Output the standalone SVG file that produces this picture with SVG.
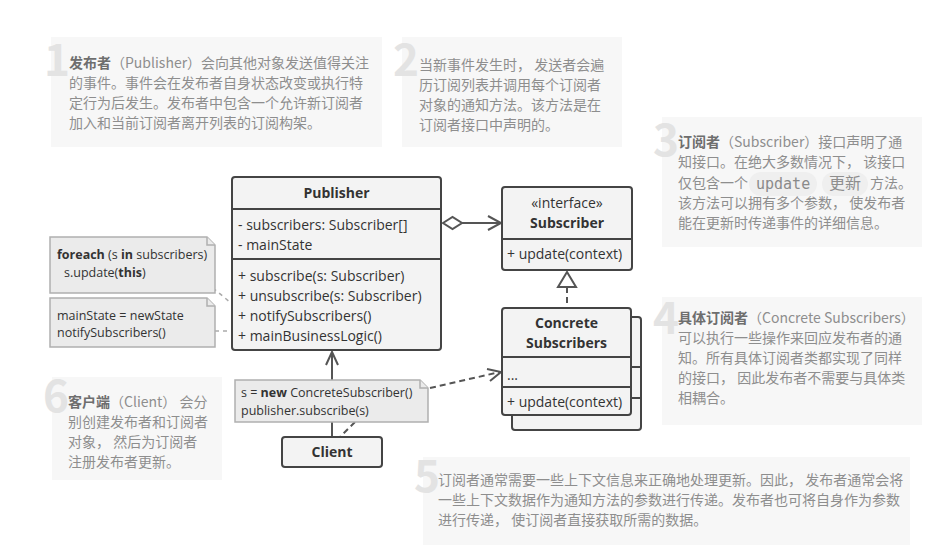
<svg xmlns="http://www.w3.org/2000/svg" width="949" height="553" viewBox="0 0 949 553">
<style>
.bg{fill:#fff}
.tn{fill:#f7f7f7}
.num{font-family:"Noto Sans CJK SC","Open Sans",sans-serif;font-weight:700;font-size:44px;fill:#e3e3e3}
.tx{font-family:"Noto Sans CJK SC","Noto Sans",sans-serif;font-size:14px;fill:#8e8e8e}
.tx .b{font-weight:700;fill:#6e6e6e}
.mono{font-family:"DejaVu Sans Mono","Liberation Mono",monospace;font-size:15px;fill:#8a8a8a}
.pill{fill:#efefef}
.box{fill:#f3f3f3;stroke:#444;stroke-width:2}
.ln{stroke:#444;stroke-width:2;fill:none}
.u{font-family:"Open Sans","Noto Sans",sans-serif;font-size:14px;fill:#333}
.ub{font-family:"Open Sans","Noto Sans",sans-serif;font-size:14px;font-weight:700;fill:#333}
.note{fill:#ebebeb;stroke:#b0b0b0;stroke-width:1.5}
.nt{font-family:"Open Sans","Noto Sans",sans-serif;font-size:12.5px;fill:#333}
.nt .b{font-weight:700}
.con{stroke:#555;stroke-width:2;fill:none}
.dash{stroke:#555;stroke-width:2;fill:none;stroke-dasharray:6 4}
.ndash{stroke:#aaa;stroke-width:1.5;fill:none;stroke-dasharray:4 4}
</style>
<rect class="bg" x="0" y="0" width="949" height="553"/>

<g id="note1">
<rect class="tn" x="51" y="37" width="331" height="110"/>
<text class="num" x="44" y="76">1</text>
<text class="tx" x="69" y="68"><tspan class="b">发布者</tspan>（Publisher）会向其他对象发送值得关注</text>
<text class="tx" x="69" y="88">的事件。事件会在发布者自身状态改变或执行特</text>
<text class="tx" x="69" y="108">定行为后发生。发布者中包含一个允许新订阅者</text>
<text class="tx" x="69" y="128">加入和当前订阅者离开列表的订阅构架。</text>
</g>

<g id="note2">
<rect class="tn" x="402" y="37" width="220" height="110"/>
<text class="num" x="393" y="76">2</text>
<text class="tx" x="419" y="70">当新事件发生时， 发送者会遍</text>
<text class="tx" x="419" y="90">历订阅列表并调用每个订阅者</text>
<text class="tx" x="419" y="110">对象的通知方法。该方法是在</text>
<text class="tx" x="419" y="130">订阅者接口中声明的。</text>
</g>

<g id="note3">
<rect class="tn" x="662" y="117" width="260" height="130"/>
<text class="num" x="653" y="156">3</text>
<text class="tx" x="678" y="147"><tspan class="b">订阅者</tspan>（Subscriber）接口声明了通</text>
<text class="tx" x="678" y="167">知接口。在绝大多数情况下， 该接口</text>
<rect class="pill" x="749" y="172" width="68" height="24" rx="12"/>
<rect class="pill" x="822" y="172" width="46" height="24" rx="12"/>
<text class="tx" x="678" y="188">仅包含一个</text>
<text class="mono" x="756" y="189">update</text>
<text class="tx" x="829" y="189" style="font-size:16px">更新</text>
<text class="tx" x="870" y="188">方法。</text>
<text class="tx" x="678" y="208">该方法可以拥有多个参数， 使发布者</text>
<text class="tx" x="678" y="228">能在更新时传递事件的详细信息。</text>
</g>

<g id="note4">
<rect class="tn" x="662" y="297" width="260" height="128"/>
<text class="num" x="653" y="334">4</text>
<text class="tx" x="678" y="323"><tspan class="b">具体订阅者</tspan>（Concrete Subscribers）</text>
<text class="tx" x="678" y="343">可以执行一些操作来回应发布者的通</text>
<text class="tx" x="678" y="363">知。所有具体订阅者类都实现了同样</text>
<text class="tx" x="678" y="383">的接口， 因此发布者不需要与具体类</text>
<text class="tx" x="678" y="403">相耦合。</text>
</g>

<g id="note5">
<rect class="tn" x="423" y="457" width="487" height="88"/>
<text class="num" x="414" y="492">5</text>
<text class="tx" x="438" y="485">订阅者通常需要一些上下文信息来正确地处理更新。因此， 发布者通常会将</text>
<text class="tx" x="438" y="505">一些上下文数据作为通知方法的参数进行传递。发布者也可将自身作为参数</text>
<text class="tx" x="438" y="525">进行传递， 使订阅者直接获取所需的数据。</text>
</g>

<g id="note6">
<rect class="tn" x="52" y="377" width="170" height="103"/>
<text class="num" x="43" y="412">6</text>
<text class="tx" x="68" y="407"><tspan class="b">客户端</tspan>（Client） 会分</text>
<text class="tx" x="68" y="427">别创建发布者和订阅者</text>
<text class="tx" x="68" y="447">对象， 然后为订阅者</text>
<text class="tx" x="68" y="467">注册发布者更新。</text>
</g>

<g id="connectors">
<line class="ndash" x1="213" y1="288" x2="231" y2="303"/>
<line class="ndash" x1="215" y1="331" x2="232" y2="331"/>
<line class="con" x1="462" y1="223" x2="501" y2="223"/>
<polygon points="443,223 452.5,217 462,223 452.5,229" fill="#fff" stroke="#555" stroke-width="2"/>
<polyline class="con" points="488,216 501,223 488,230"/>
<line class="dash" x1="567" y1="287" x2="567" y2="308"/>
<polygon points="567,272 558,287 576,287" fill="#fff" stroke="#555" stroke-width="2"/>
<line class="con" x1="332" y1="437" x2="332" y2="352"/>
<polyline class="con" points="326,365 332,352 338,365"/>
<line class="dash" x1="430" y1="388" x2="500" y2="372"/>
<polyline class="con" points="487,369 501,372 490,381"/>
<line class="dash" x1="355" y1="422" x2="340" y2="437" stroke-dasharray="4 4"/>
</g>

<g id="publisher">
<rect class="box" x="232" y="177" width="209" height="173" rx="3"/>
<line class="ln" x1="232" y1="209" x2="441" y2="209"/>
<line class="ln" x1="232" y1="259" x2="441" y2="259"/>
<text class="ub" x="336.5" y="198" text-anchor="middle">Publisher</text>
<text class="u" x="238" y="230">- subscribers: Subscriber[]</text>
<text class="u" x="238" y="250">- mainState</text>
<text class="u" x="238" y="281">+ subscribe(s: Subscriber)</text>
<text class="u" x="238" y="301">+ unsubscribe(s: Subscriber)</text>
<text class="u" x="238" y="321">+ notifySubscribers()</text>
<text class="u" x="238" y="341">+ mainBusinessLogic()</text>
</g>

<g id="subscriber">
<rect class="box" x="502" y="187" width="130" height="83" rx="3"/>
<line class="ln" x1="502" y1="239" x2="632" y2="239"/>
<text class="u" x="567" y="208" text-anchor="middle">«interface»</text>
<text class="ub" x="567" y="228" text-anchor="middle">Subscriber</text>
<text class="u" x="507" y="259">+ update(context)</text>
</g>

<g id="concrete-subscribers">
<rect class="box" x="512" y="317" width="129" height="113" rx="3"/>
<line class="ln" x1="512" y1="367" x2="641" y2="367"/>
<line class="ln" x1="512" y1="398" x2="641" y2="398"/>
<rect class="box" x="502" y="308" width="129" height="107" rx="3"/>
<line class="ln" x1="502" y1="357" x2="631" y2="357"/>
<line class="ln" x1="502" y1="387" x2="631" y2="387"/>
<text class="ub" x="566.5" y="328" text-anchor="middle">Concrete</text>
<text class="ub" x="566.5" y="348" text-anchor="middle">Subscribers</text>
<text class="u" x="507" y="380">...</text>
<text class="u" x="507" y="407">+ update(context)</text>
</g>

<g id="note-foreach">
<path class="note" d="M50,237 H207 L215,245 V293 H50 Z"/>
<path class="note" d="M207,237 V245 H215" fill="none"/>
<text class="nt" x="57" y="259"><tspan class="b">foreach</tspan> (s <tspan class="b">in</tspan> subscribers)</text>
<text class="nt" x="64" y="277">s.update(<tspan class="b">this</tspan>)</text>
</g>

<g id="note-mainstate">
<path class="note" d="M50,298 H207 L215,306 V347 H50 Z"/>
<path class="note" d="M207,298 V306 H215" fill="none"/>
<text class="nt" x="57" y="320">mainState = newState</text>
<text class="nt" x="57" y="337">notifySubscribers()</text>
</g>

<g id="note-client">
<path class="note" d="M235,380 H420 L428,388 V422 H235 Z"/>
<path class="note" d="M420,380 V388 H428" fill="none"/>
<text class="nt" x="241" y="397">s = <tspan class="b">new</tspan> ConcreteSubscriber()</text>
<text class="nt" x="241" y="415">publisher.subscribe(s)</text>
</g>

<g id="client">
<rect class="box" x="282" y="437" width="100" height="30" rx="3"/>
<text class="ub" x="332" y="457" text-anchor="middle">Client</text>
</g>
</svg>
